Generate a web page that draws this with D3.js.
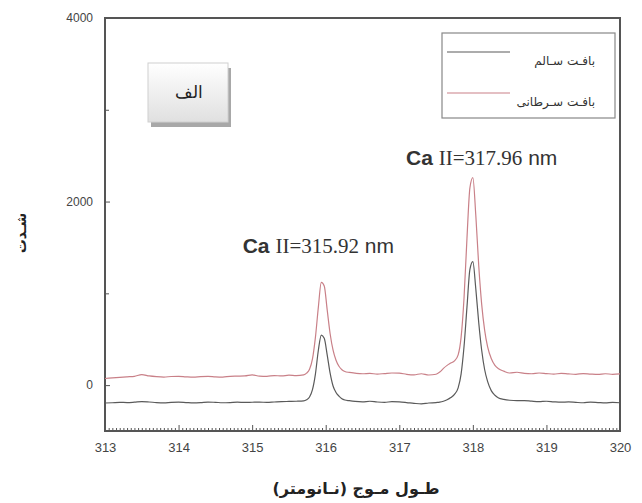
<!DOCTYPE html>
<html>
<head>
<meta charset="utf-8">
<script src="https://cdn.jsdelivr.net/npm/d3@7"></script>
<style>
  body { margin: 0; background: #fff; }
  svg { display: block; }
</style>
</head>
<body>
<svg id="chart" width="642" height="503"></svg>
<script>
// wavelength (nm), denser sampling around the two Ca II lines
var wavelength = [
  313.0, 313.1, 313.2, 313.3, 313.4, 313.5, 313.6, 313.7, 313.8, 313.9,
  314.0, 314.1, 314.2, 314.3, 314.4, 314.5, 314.6, 314.7, 314.8, 314.9,
  315.0, 315.1, 315.2, 315.3, 315.4, 315.5, 315.6,
  315.7, 315.74, 315.78, 315.82, 315.86, 315.9, 315.94, 315.98, 316.02, 316.06,
  316.1, 316.14, 316.18, 316.22, 316.26, 316.32,
  316.4, 316.5, 316.6, 316.7, 316.8, 316.9, 317.0, 317.1, 317.2, 317.3, 317.4,
  317.5, 317.55, 317.6, 317.65, 317.7, 317.75, 317.8, 317.84, 317.88, 317.92,
  317.96, 318.0, 318.04, 318.08, 318.12, 318.16, 318.2, 318.25, 318.3, 318.35,
  318.42, 318.5,
  318.6, 318.7, 318.8, 318.9, 319.0, 319.1, 319.2, 319.3, 319.4, 319.5,
  319.6, 319.7, 319.8, 319.9, 320.0
];

// healthy tissue (black)
var healthy = [
  -195, -192, -188, -190, -186, -180, -184, -190, -193, -188,
  -186, -190, -194, -191, -185, -188, -192, -190, -186, -189,
  -187, -185, -188, -184, -180, -178, -176,
  -172, -160, -130, -50, 120, 380, 545, 510, 330, 130,
  -10, -80, -120, -148, -162, -170,
  -178, -182, -176, -184, -188, -180, -183, -190, -198, -204, -195,
  -190, -186, -176, -160, -136, -100, -30, 120, 420, 850,
  1260, 1345, 1050, 680, 380, 170, 40, -60, -110, -140,
  -155, -165,
  -170, -168, -175, -180, -176, -182, -186, -183, -188, -192,
  -186, -190, -194, -189, -192
];

// cancerous tissue (red)
var cancer = [
  72, 78, 84, 90, 96, 115, 100, 92, 88, 94,
  96, 90, 86, 92, 95, 90, 88, 96, 98, 100,
  112, 98, 96, 104, 100, 108, 104,
  112, 130, 172, 285, 520, 850, 1120, 1080, 820, 560,
  380, 270, 205, 168, 148, 138,
  130, 124, 128, 120, 126, 132, 130, 118, 112, 124, 110,
  118, 142, 182, 215, 240, 265, 330, 520, 950, 1600,
  2150, 2260, 1850, 1300, 880, 600, 420, 290, 215, 178,
  152, 132,
  140, 128, 124, 132, 126, 120, 128, 122, 118, 126,
  120, 116, 124, 118, 122
];

var xTicks = [313, 314, 315, 316, 317, 318, 319, 320];
var yTicks = [0, 2000, 4000];
var yMinor = [1000, 3000];

var seriesNames = ["بافـت سـالم", "بافـت سـرطانی"];
var seriesColors = ["#5a5a5a", "#c98088"];

// label anchor (wavelength, intensity) and text
var peakLabels = [
  { x: 315.9, y: 1440, num: "II=315.92" },
  { x: 318.12, y: 2400, num: "II=317.96" }
];

var margin = { left: 105, right: 22, top: 18, bottom: 72 };
var W = 642, H = 503;
var width = W - margin.left - margin.right;
var height = H - margin.top - margin.bottom;

var svg = d3.select("#chart");
var g = svg.append("g")
  .attr("transform", "translate(" + margin.left + "," + margin.top + ")");

var x = d3.scaleLinear().domain([313, 320]).range([0, width]);
var y = d3.scaleLinear().domain([-500, 4000]).range([height, 0]);

// minor ticks on x every 0.05
var minorX = d3.range(0, 141).map(function (i) { return 313 + i * 0.05; })
  .filter(function (v) { return Math.abs(v - Math.round(v)) > 0.001; });

g.append("g")
  .attr("transform", "translate(0," + height + ")")
  .call(d3.axisBottom(x).tickValues(minorX).tickSize(-3).tickFormat(""))
  .call(function (a) { a.select(".domain").remove(); a.selectAll("line").attr("stroke", "#555"); });

g.append("g")
  .attr("class", "xaxis")
  .attr("transform", "translate(0," + height + ")")
  .call(d3.axisBottom(x).tickValues(xTicks).tickSize(-6).tickPadding(12).tickFormat(d3.format("d")))
  .call(function (a) {
    a.select(".domain").remove();
    a.selectAll("line").attr("stroke", "#555");
    a.selectAll("text").attr("fill", "#444")
      .style("font-family", "Liberation Sans, Arial, sans-serif").style("font-size", "13px");
  });

g.append("g")
  .call(d3.axisLeft(y).tickValues(yMinor).tickSize(-4).tickFormat(""))
  .call(function (a) { a.select(".domain").remove(); a.selectAll("line").attr("stroke", "#555"); });

g.append("g")
  .call(d3.axisLeft(y).tickValues(yTicks).tickSize(-5).tickPadding(12).tickFormat(d3.format("d")))
  .call(function (a) {
    a.select(".domain").remove();
    a.selectAll("line").attr("stroke", "#555");
    a.selectAll("text").attr("fill", "#444")
      .style("font-family", "Liberation Sans, Arial, sans-serif").style("font-size", "12px");
  });

// frame
g.append("rect")
  .attr("x", 0).attr("y", 0)
  .attr("width", width).attr("height", height)
  .attr("fill", "none")
  .attr("stroke", "#555")
  .attr("stroke-width", 2);

var line = d3.line()
  .x(function (d, i) { return x(wavelength[i]); })
  .y(function (d) { return y(d); })
  .curve(d3.curveMonotoneX);

[healthy, cancer].forEach(function (s, k) {
  g.append("path")
    .datum(s)
    .attr("fill", "none")
    .attr("stroke", seriesColors[k])
    .attr("stroke-width", 1.2)
    .attr("d", line);
});

// peak annotations
peakLabels.forEach(function (p) {
  var t = g.append("text")
    .attr("x", x(p.x))
    .attr("y", y(p.y))
    .attr("text-anchor", "middle")
    .attr("fill", "#333")
    .style("font-size", "21px");
  t.append("tspan").text("Ca ")
    .style("font-family", "Liberation Sans, Arial, sans-serif").style("font-weight", "bold");
  t.append("tspan").text(p.num)
    .style("font-family", "Liberation Serif, Times New Roman, serif");
  t.append("tspan").text(" nm")
    .style("font-family", "Liberation Sans, Arial, sans-serif");
});

// legend
var lg = g.append("g").attr("transform", "translate(337,15)");
lg.append("rect")
  .attr("width", 173).attr("height", 85)
  .attr("fill", "#fff").attr("stroke", "#888").attr("stroke-width", 1.2);
seriesNames.forEach(function (n, i) {
  var yy = 19 + i * 41;
  lg.append("line")
    .attr("x1", 5).attr("x2", 68)
    .attr("y1", yy).attr("y2", yy)
    .attr("stroke", seriesColors[i]).attr("stroke-width", 1.2);
  lg.append("text")
    .attr("x", 153).attr("y", yy + 13)
    .attr("text-anchor", "end")
    .attr("fill", "#333")
    .style("font-family", "DejaVu Sans, sans-serif")
    .style("font-size", "12px")
    .text(n);
});

// "الف" panel tag
var defs = svg.append("defs");
var grad = defs.append("linearGradient").attr("id", "tagGrad")
  .attr("x1", 0).attr("y1", 0).attr("x2", 0).attr("y2", 1);
grad.append("stop").attr("offset", "0%").attr("stop-color", "#ffffff");
grad.append("stop").attr("offset", "100%").attr("stop-color", "#e0e0e0");

var tag = svg.append("g").attr("transform", "translate(148,63)");
tag.append("rect").attr("x", 3).attr("y", 5).attr("width", 80).attr("height", 59).attr("fill", "#a8a8a8");
tag.append("rect").attr("width", 80).attr("height", 59)
  .attr("fill", "url(#tagGrad)").attr("stroke", "#d0d0d0");
tag.append("text")
  .attr("x", 41).attr("y", 35)
  .attr("text-anchor", "middle")
  .attr("fill", "#222")
  .style("font-family", "DejaVu Serif, serif")
  .style("font-size", "17px")
  .text("الف");

// axis titles
svg.append("text")
  .attr("transform", "translate(26,233) rotate(-90)")
  .attr("text-anchor", "middle")
  .attr("fill", "#222")
  .style("font-family", "DejaVu Sans, sans-serif")
  .style("font-weight", "bold")
  .style("font-size", "14px")
  .text("شـدت");

svg.append("text")
  .attr("x", 356)
  .attr("y", 494)
  .attr("text-anchor", "middle")
  .attr("fill", "#222")
  .style("font-family", "DejaVu Sans, sans-serif")
  .style("font-weight", "bold")
  .style("font-size", "16px")
  .text("طـول مـوج (نـانومتر)");
</script>
</body>
</html>
